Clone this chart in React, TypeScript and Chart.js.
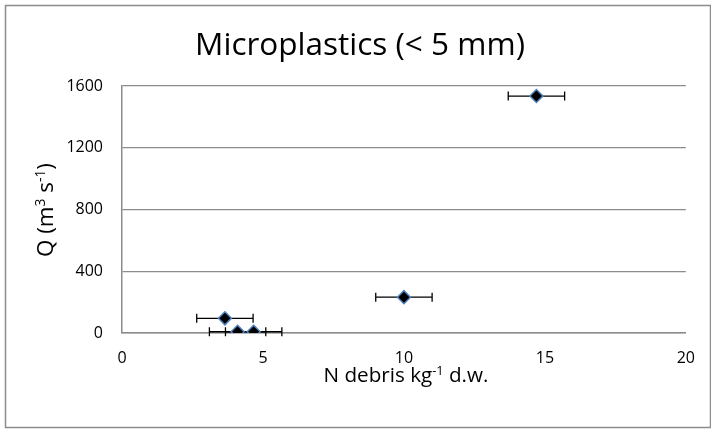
import React, { useEffect, useRef } from "react";
import { Chart, registerables } from "chart.js";

Chart.register(...registerables);

const debrisN = [14.7, 10.0, 3.65, 4.1, 4.67];
const flowQ = [1535, 232, 95, 8, 8];
const debrisErr = [1.0, 1.0, 1.0, 1.0, 1.0];
const yTicks = [0, 400, 800, 1200, 1600];
const xTicks = [0, 5, 10, 15, 20];

const FONT = "'Open Sans', sans-serif";

type Seg = { t: string; sup?: boolean };

const titleSegs: Seg[] = [{ t: "Microplastics (< 5 mm)" }];
const xTitleSegs: Seg[] = [{ t: "N debris kg" }, { t: "-1", sup: true }, { t: " d.w." }];
const yTitleSegs: Seg[] = [{ t: "Q (m" }, { t: "3", sup: true }, { t: " s" }, { t: "-1", sup: true }, { t: ")" }];

function drawRich(ctx: CanvasRenderingContext2D, segs: Seg[], cx: number, cy: number, targetW: number) {
  const measure = (size: number) =>
    segs.reduce((w, s) => {
      ctx.font = `${s.sup ? size * 0.62 : size}px ${FONT}`;
      return w + ctx.measureText(s.t).width;
    }, 0);
  const size = (100 * targetW) / measure(100);
  const total = measure(size);
  let x = cx - total / 2;
  ctx.textAlign = "left";
  ctx.textBaseline = "alphabetic";
  const base = cy + size * 0.36;
  segs.forEach((s) => {
    ctx.font = `${s.sup ? size * 0.62 : size}px ${FONT}`;
    ctx.fillText(s.t, x, s.sup ? base - size * 0.38 : base);
    x += ctx.measureText(s.t).width;
  });
}

const errorBarPlugin = {
  id: "errorBars",
  beforeDatasetsDraw(chart: any) {
    const ctx = chart.ctx;
    const xs = chart.scales.x;
    const ys = chart.scales.y;
    ctx.save();
    ctx.strokeStyle = "#000";
    ctx.lineWidth = 1.3;
    debrisN.forEach((v, i) => {
      const y = ys.getPixelForValue(flowQ[i]);
      const x0 = xs.getPixelForValue(v - debrisErr[i]);
      const x1 = xs.getPixelForValue(v + debrisErr[i]);
      ctx.beginPath();
      ctx.moveTo(x0, y);
      ctx.lineTo(x1, y);
      ctx.moveTo(x0, y - 4.5);
      ctx.lineTo(x0, y + 4.5);
      ctx.moveTo(x1, y - 4.5);
      ctx.lineTo(x1, y + 4.5);
      ctx.stroke();
    });
    ctx.restore();
  },
};

const decorPlugin = {
  id: "decor",
  afterDraw(chart: any) {
    const ctx = chart.ctx;
    ctx.save();
    ctx.strokeStyle = "#8c8c8c";
    ctx.lineWidth = 1.5;
    ctx.strokeRect(5.5, 5.5, 705, 422);
    ctx.fillStyle = "#000";
    drawRich(ctx, titleSegs, 360, 44, 330);
    drawRich(ctx, xTitleSegs, 406, 375, 165);
    ctx.translate(45, 210);
    ctx.rotate(-Math.PI / 2);
    drawRich(ctx, yTitleSegs, 0, 0, 94);
    ctx.restore();
  },
};

export default function App() {
  const ref = useRef<HTMLCanvasElement>(null);
  useEffect(() => {
    document.body.style.margin = "0";
    const chart = new Chart(ref.current!, {
      type: "scatter",
      data: {
        datasets: [
          {
            data: debrisN.map((x, i) => ({ x, y: flowQ[i] })),
            pointStyle: "rectRot",
            pointRadius: 6.5,
            pointHoverRadius: 6.5,
            backgroundColor: "#000",
            borderColor: "#4f81bd",
            borderWidth: 1.5,
          },
        ],
      },
      options: {
        animation: false,
        responsive: false,
        layout: { padding: { top: 86, left: 0, right: 25, bottom: 0 } },
        plugins: { legend: { display: false }, tooltip: { enabled: false }, title: { display: false } },
        scales: {
          x: {
            type: "linear",
            min: 0,
            max: 20,
            afterFit: (s: any) => { s.height = 430 - 333; },
            afterBuildTicks: (s: any) => { s.ticks = xTicks.map((v) => ({ value: v })); },
            grid: { display: false, drawTicks: false },
            border: { display: true, color: "#8c8c8c", width: 1.5 },
            ticks: { color: "#000", font: { family: FONT, size: 16 }, padding: 16, maxRotation: 0, callback: (v: any) => String(v) },
          },
          y: {
            type: "linear",
            min: 0,
            max: 1600,
            afterFit: (s: any) => { s.width = 122; },
            afterBuildTicks: (s: any) => { s.ticks = yTicks.map((v) => ({ value: v })); },
            grid: { color: "#8c8c8c", lineWidth: 1.2, drawTicks: false },
            border: { display: true, color: "#8c8c8c", width: 1.5 },
            ticks: { color: "#000", font: { family: FONT, size: 16 }, padding: 19, callback: (v: any) => String(v) },
          },
        },
      },
      plugins: [errorBarPlugin, decorPlugin],
    });
    return () => chart.destroy();
  }, []);
  return <canvas ref={ref} width={711} height={430} style={{ display: "block" }} />;
}
